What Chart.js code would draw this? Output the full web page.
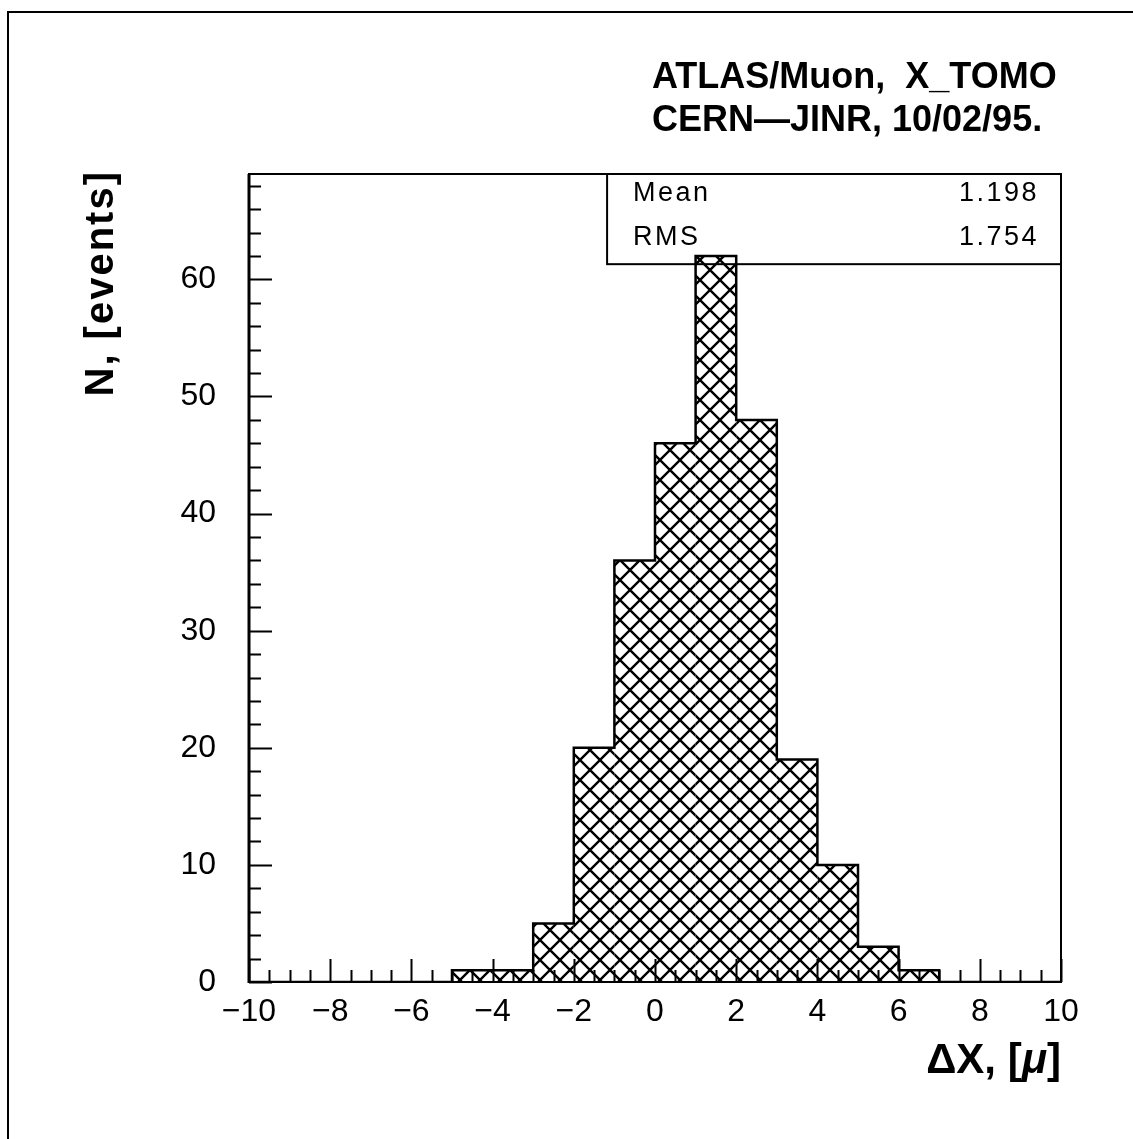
<!DOCTYPE html>
<html>
<head>
<meta charset="utf-8">
<script src="https://cdn.jsdelivr.net/npm/chart.js@4.4.1/dist/chart.umd.min.js"></script>
<style>
  html, body { margin: 0; padding: 0; background: #ffffff; }
  canvas { display: block; }
</style>
</head>
<body>
<canvas id="c" width="1133" height="1139"></canvas>
<script>
// ---------------- data ----------------
const binEdges = [-10, -9, -8, -7, -6, -5, -4, -3, -2, -1, 0, 1, 2, 3, 4, 5, 6, 7, 8, 9, 10];
const counts   = [0, 0, 0, 0, 0, 1, 1, 5, 20, 36, 46, 62, 48, 19, 10, 3, 1, 0, 0, 0];
const xRange = [-10, 10];
const yRange = [0, 69];
const xMajorStep = 2, xMinorStep = 0.5;
const yMajorStep = 10, yMinorStep = 2;
const titleLines = ["ATLAS/Muon,  X_TOMO", "CERN\u2014JINR, 10/02/95."];
const statLabels = ["Mean", "RMS"];
const statValues = ["1.198", "1.754"];
const yAxisTitle = "N, [events]";
const xAxisTitleParts = ["\u0394X, [", "\u03BC", "]"];

const FONT = '"Liberation Sans", Arial, Helvetica, sans-serif';

// ---------------- hatch pattern ----------------
const canvas = document.getElementById('c');
const ctx0 = canvas.getContext('2d');
function makeHatch() {
  const s = 20;
  const c = document.createElement('canvas');
  c.width = s; c.height = s;
  const g = c.getContext('2d');
  g.strokeStyle = '#000';
  g.lineWidth = 2.4;
  g.beginPath();
  for (let k = -1; k <= 1; k++) {
    g.moveTo(k * s, 0); g.lineTo(k * s + s, s);
    g.moveTo(k * s + s, 0); g.lineTo(k * s, s);
  }
  g.stroke();
  return ctx0.createPattern(c, 'repeat');
}
const hatch = makeHatch();

// ---------------- derived points ----------------
const barPoints = counts.map((c, i) => ({ x: (binEdges[i] + binEdges[i + 1]) / 2, y: c }));
const outlinePoints = binEdges.map((e, i) => ({ x: e, y: i < counts.length ? counts[i] : 0 }));

// ---------------- decoration plugin ----------------
const decor = {
  id: 'decor',
  beforeDatasetsDraw(chart) {
    const { ctx, chartArea: a } = chart;
    // statistics box
    const bx = chart.scales.x.getPixelForValue(-1.18);
    const by2 = chart.scales.y.getPixelForValue(61.3);
    ctx.save();
    ctx.fillStyle = '#fff';
    ctx.fillRect(bx, a.top, a.right - bx, by2 - a.top);
    ctx.strokeStyle = '#000';
    ctx.lineWidth = 2;
    ctx.strokeRect(bx, a.top, a.right - bx, by2 - a.top);
    ctx.fillStyle = '#000';
    ctx.font = '27px ' + FONT;
    ctx.letterSpacing = '2.5px';
    ctx.textBaseline = 'alphabetic';
    const rows = [a.top + 27, a.top + 71];
    statLabels.forEach((lab, i) => {
      ctx.textAlign = 'left';
      ctx.fillText(lab, bx + 26, rows[i]);
      ctx.textAlign = 'right';
      ctx.fillText(statValues[i], a.right - 22, rows[i]);
    });
    ctx.restore();
  },
  afterDatasetsDraw(chart) {
    const { ctx, chartArea: a, scales } = chart;
    const xs = scales.x, ys = scales.y;
    ctx.save();
    ctx.strokeStyle = '#000';
    // frame
    ctx.lineWidth = 2;
    ctx.strokeRect(a.left, a.top, a.right - a.left, a.bottom - a.top);
    ctx.lineWidth = 3;
    ctx.beginPath();
    ctx.moveTo(a.left, a.top); ctx.lineTo(a.left, a.bottom + 1);
    ctx.stroke();
    // ticks
    ctx.lineWidth = 2;
    ctx.beginPath();
    for (let v = xRange[0]; v <= xRange[1] + 1e-9; v += xMinorStep) {
      const px = Math.round(xs.getPixelForValue(v)) + 0.5;
      const major = Math.abs(v / xMajorStep - Math.round(v / xMajorStep)) < 1e-6;
      const len = major ? 23 : 12;
      ctx.moveTo(px, a.bottom); ctx.lineTo(px, a.bottom - len);
    }
    for (let v = yRange[0]; v <= yRange[1] + 1e-9; v += yMinorStep) {
      const py = Math.round(ys.getPixelForValue(v)) + 0.5;
      const major = Math.abs(v / yMajorStep - Math.round(v / yMajorStep)) < 1e-6;
      const len = major ? 23 : 12;
      ctx.moveTo(a.left, py); ctx.lineTo(a.left + len, py);
    }
    ctx.stroke();
    ctx.restore();
  },
  afterDraw(chart) {
    const { ctx, chartArea: a } = chart;
    ctx.save();
    ctx.fillStyle = '#000';
    // titles
    ctx.font = 'bold 36px ' + FONT;
    ctx.textAlign = 'left';
    ctx.textBaseline = 'alphabetic';
    ctx.fillText(titleLines[0], 652, 88);
    ctx.fillText(titleLines[1], 652, 131);
    // y axis title
    ctx.save();
    ctx.translate(113, 170);
    ctx.rotate(-Math.PI / 2);
    ctx.font = 'bold 40px ' + FONT;
    ctx.letterSpacing = '2px';
    ctx.textAlign = 'right';
    ctx.fillText(yAxisTitle, 0, 0);
    ctx.restore();
    // x axis title (right aligned)
    const fonts = ['bold 42px ' + FONT, 'bold italic 42px ' + FONT, 'bold 42px ' + FONT];
    const widths = xAxisTitleParts.map((t, i) => { ctx.font = fonts[i]; return ctx.measureText(t).width; });
    let x0 = a.right - widths.reduce((s, w) => s + w, 0);
    ctx.textAlign = 'left';
    xAxisTitleParts.forEach((t, i) => {
      ctx.font = fonts[i];
      ctx.fillText(t, x0, 1073);
      x0 += widths[i];
    });
    // outer page border
    ctx.strokeStyle = '#000';
    ctx.lineWidth = 2;
    ctx.beginPath();
    ctx.moveTo(8, 1139); ctx.lineTo(8, 12); ctx.lineTo(1133, 12);
    ctx.stroke();
    ctx.restore();
  }
};

new Chart(canvas, {
  type: 'bar',
  data: {
    datasets: [
      {
        type: 'line',
        data: outlinePoints,
        stepped: true,
        borderColor: '#000',
        borderWidth: 2.5,
        pointRadius: 0,
        fill: false,
        order: 1
      },
      {
        type: 'bar',
        data: barPoints,
        backgroundColor: hatch,
        borderWidth: 0,
        barPercentage: 1,
        categoryPercentage: 1,
        inflateAmount: 0,
        order: 2
      }
    ]
  },
  options: {
    responsive: false,
    devicePixelRatio: 1,
    animation: false,
    layout: { padding: { top: 174, right: 72, left: 0, bottom: 0 } },
    plugins: { legend: { display: false }, tooltip: { enabled: false } },
    scales: {
      x: {
        type: 'linear',
        min: xRange[0], max: xRange[1],
        offset: false,
        grid: { display: false, drawTicks: false },
        border: { display: false },
        ticks: {
          stepSize: xMajorStep,
          autoSkip: false,
          maxRotation: 0,
          padding: 11,
          color: '#000',
          font: { family: FONT, size: 32 },
          callback: v => (v < 0 ? '\u2212' + Math.abs(v) : String(v))
        },
        afterFit: s => { s.height = 157; }
      },
      y: {
        min: yRange[0], max: yRange[1],
        grid: { display: false, drawTicks: false },
        border: { display: false },
        ticks: {
          stepSize: yMajorStep,
          includeBounds: false,
          padding: 33,
          color: '#000',
          font: { family: FONT, size: 32 },
          callback: v => (v % yMajorStep === 0 ? String(v) : '')
        },
        afterFit: s => { s.width = 249; }
      }
    }
  },
  plugins: [decor]
});
</script>
</body>
</html>
